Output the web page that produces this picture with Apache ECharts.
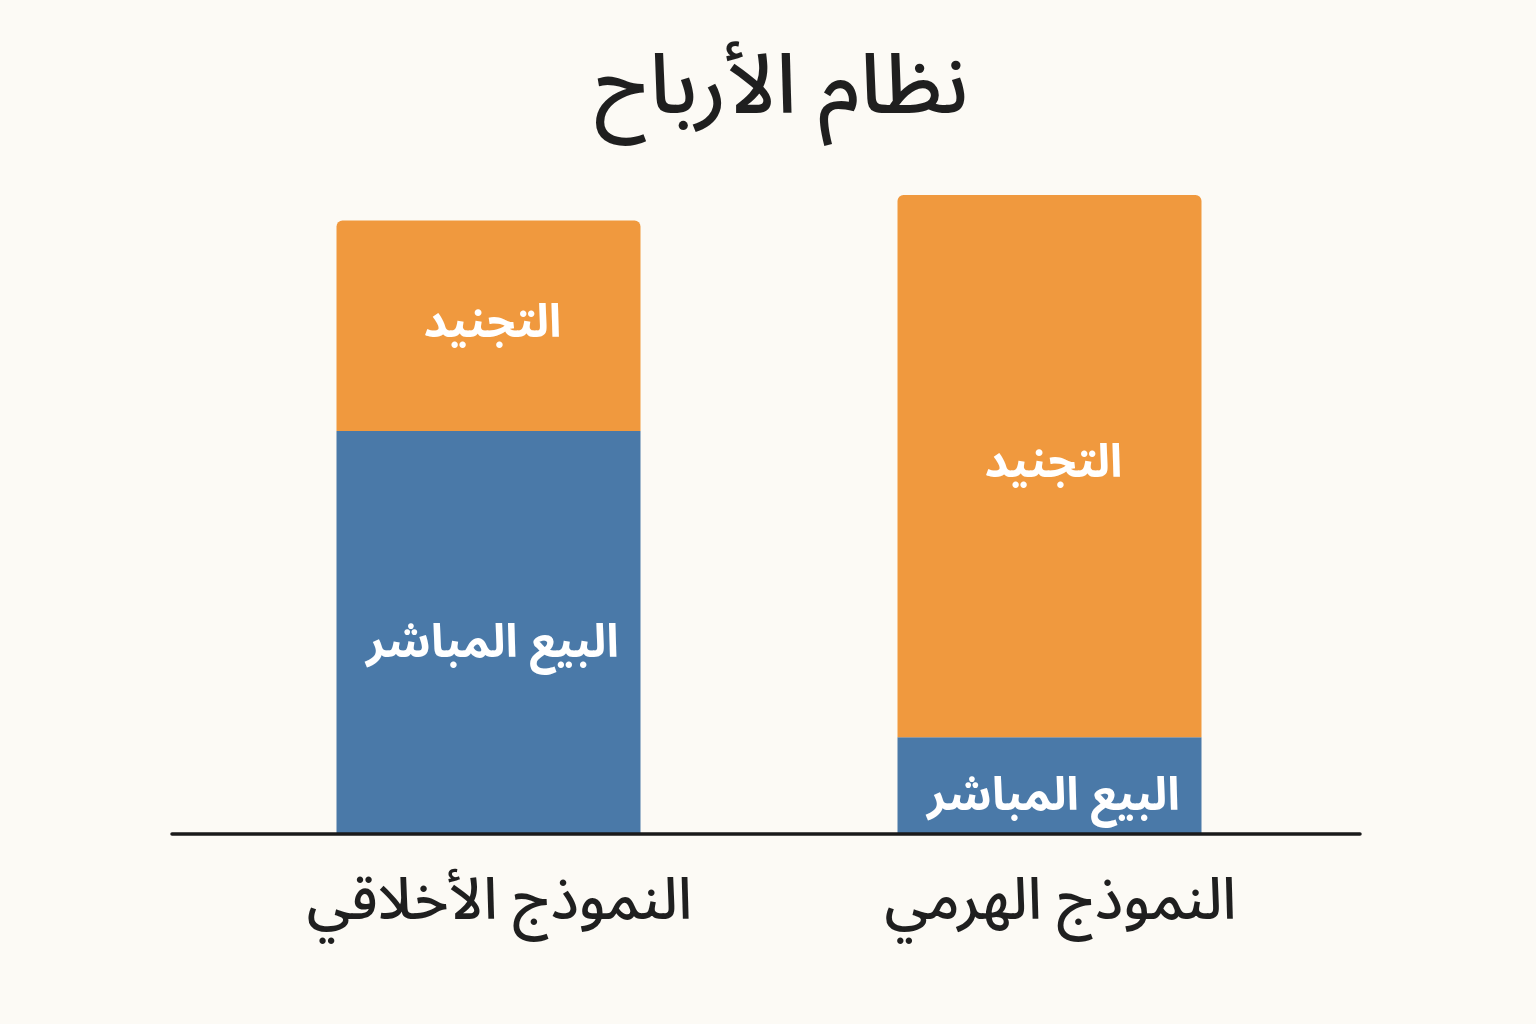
<!DOCTYPE html>
<html lang="ar">
<head>
<meta charset="utf-8">
<title>نظام الأرباح</title>
<script src="https://cdn.jsdelivr.net/npm/echarts@6/dist/echarts.min.js"></script>
<style>
  html, body { margin: 0; padding: 0; background: #fcfaf5; }
  #chart { width: 1536px; height: 1024px; }
</style>
</head>
<body>
<div id="chart"></div>
<script>
// Profit structure of the two business models (relative shares)
const categories = ['النموذج الأخلاقي', 'النموذج الهرمي'];
const seriesNames = ['البيع المباشر', 'التجنيد'];
const directSales = [63, 15];
const recruitment = [33, 85];

const FONT = '"Noto Sans Arabic", "Noto Sans", "DejaVu Sans", sans-serif';

const chart = echarts.init(document.getElementById('chart'));

const labelStyle = {
  show: true,
  position: 'inside',
  color: '#ffffff',
  fontSize: 46,
  fontWeight: 'bold',
  fontFamily: FONT,
  formatter: p => p.seriesName
};

chart.setOption({
  backgroundColor: '#fcfaf5',
  animation: false,
  title: {
    text: 'نظام الأرباح',
    left: 595,
    top: 59,
    padding: 0,
    textStyle: { fontSize: 83, fontWeight: 500, color: '#1f1f1f', fontFamily: FONT }
  },
  grid: { left: 208, right: 206, top: 195, bottom: 191 },
  xAxis: {
    type: 'category',
    data: categories,
    axisLine: { show: false },
    axisTick: { show: false },
    axisLabel: {
      fontSize: 58, fontWeight: 500, color: '#1f1f1f', margin: 48,
      padding: [0, 0, 0, 22], fontFamily: FONT
    }
  },
  yAxis: {
    type: 'value',
    min: 0,
    max: 100,
    show: false
  },
  series: [
    {
      name: seriesNames[0],
      type: 'bar',
      stack: 'total',
      barWidth: 304,
      data: directSales,
      itemStyle: { color: '#4a79a8' },
      label: Object.assign({}, labelStyle, { offset: [4, 18] })
    },
    {
      name: seriesNames[1],
      type: 'bar',
      stack: 'total',
      barWidth: 304,
      data: recruitment,
      itemStyle: { color: '#f0993e', borderRadius: [6, 6, 0, 0] },
      label: Object.assign({}, labelStyle, { offset: [4, 4] })
    }
  ],
  graphic: [
    {
      type: 'line',
      shape: { x1: 172, y1: 834, x2: 1360, y2: 834 },
      style: { stroke: '#1a1a1a', lineWidth: 3.5, lineCap: 'round' },
      z: 10
    }
  ]
});
</script>
</body>
</html>
